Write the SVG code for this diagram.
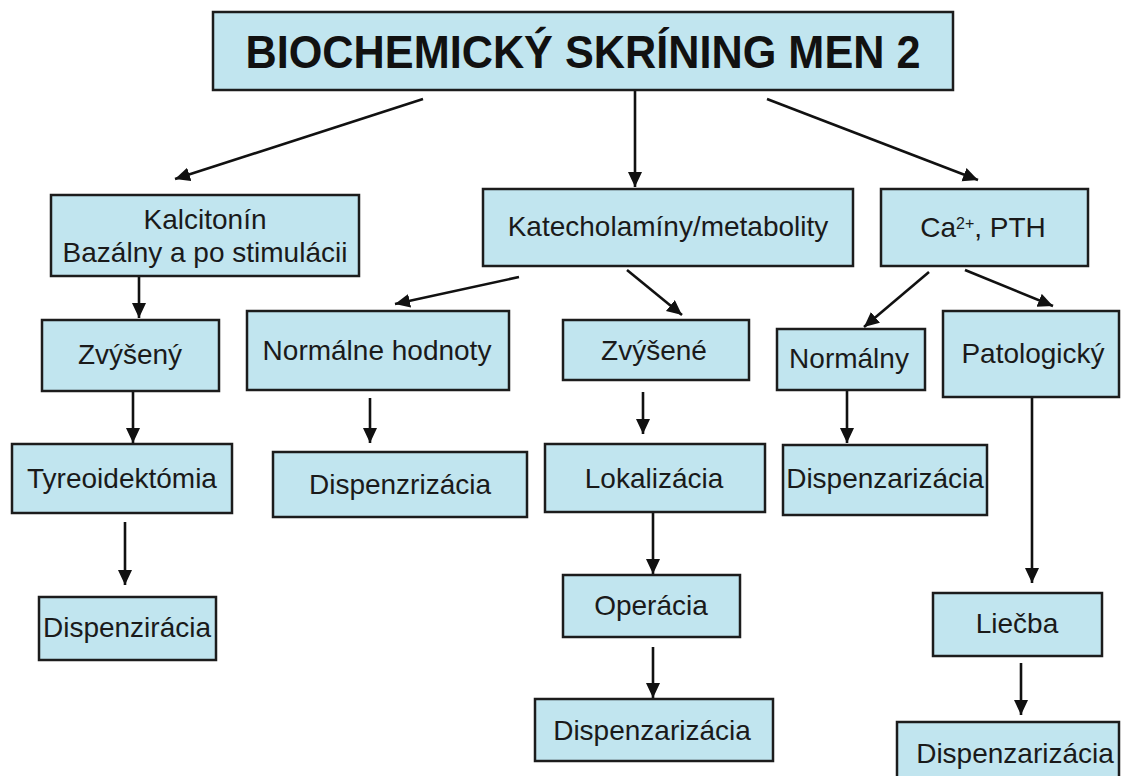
<svg xmlns="http://www.w3.org/2000/svg" width="1121" height="776" viewBox="0 0 1121 776">
<style>
.box{fill:#c1e5ef;stroke:#1c1c1c;stroke-width:2.5}
.t{font-family:"Liberation Sans",Arial,sans-serif;font-size:28px;fill:#1a1a1a;text-anchor:middle}
.title{font-family:"Liberation Sans",Arial,sans-serif;font-size:46px;font-weight:bold;fill:#111;text-anchor:middle}
.c{fill:none;stroke:#111;stroke-width:2.6;marker-end:url(#ah)}
</style>
<defs>
<marker id="ah" markerUnits="userSpaceOnUse" markerWidth="18" markerHeight="16" refX="15" refY="7" orient="auto">
<path d="M0,0 L15,7 L0,14 Z" fill="#111"/>
</marker>
</defs>
<rect width="1121" height="776" fill="#fff"/>
<g id="connectors">
<line class="c" x1="423" y1="99" x2="175" y2="179"/>
<line class="c" x1="635" y1="90" x2="635" y2="187"/>
<line class="c" x1="767" y1="99" x2="978" y2="180"/>
<line class="c" x1="139" y1="277" x2="139" y2="318"/>
<line class="c" x1="133" y1="392" x2="133" y2="443"/>
<line class="c" x1="125" y1="522" x2="125" y2="585"/>
<line class="c" x1="519" y1="277" x2="395" y2="304"/>
<line class="c" x1="627" y1="270" x2="682" y2="315"/>
<line class="c" x1="370" y1="398" x2="370" y2="443"/>
<line class="c" x1="643" y1="392" x2="643" y2="434"/>
<line class="c" x1="653" y1="513" x2="653" y2="574"/>
<line class="c" x1="653" y1="647" x2="653" y2="698"/>
<line class="c" x1="929" y1="272" x2="864" y2="327"/>
<line class="c" x1="965" y1="270" x2="1053" y2="306"/>
<line class="c" x1="847" y1="391" x2="847" y2="443"/>
<line class="c" x1="1032" y1="398" x2="1032" y2="583"/>
<line class="c" x1="1021" y1="663" x2="1021" y2="715"/>
</g>
<g id="n-title"><rect class="box" x="213" y="12" width="740" height="78"/><text class="title" x="583" y="68" textLength="675" lengthAdjust="spacingAndGlyphs">BIOCHEMICKÝ SKRÍNING MEN 2</text></g>
<g id="n-kalcitonin"><rect class="box" x="51" y="195" width="308" height="81"/><text class="t" x="205" y="229">Kalcitonín</text><text class="t" x="205" y="262">Bazálny a po stimulácii</text></g>
<g id="n-katechol"><rect class="box" x="483" y="189" width="370" height="77"/><text class="t" x="668" y="236">Katecholamíny/metabolity</text></g>
<g id="n-ca"><rect class="box" x="881" y="189" width="207" height="77"/><text class="t" x="983" y="237">Ca<tspan font-size="16" dy="-8">2+</tspan><tspan dy="8">, PTH</tspan></text></g>
<g id="n-zvyseny"><rect class="box" x="42" y="320" width="177" height="71"/><text class="t" x="130" y="364">Zvýšený</text></g>
<g id="n-normalne"><rect class="box" x="247" y="311" width="262" height="79"/><text class="t" x="377" y="360">Normálne hodnoty</text></g>
<g id="n-zvysene"><rect class="box" x="563" y="320" width="186" height="60"/><text class="t" x="654" y="360">Zvýšené</text></g>
<g id="n-normalny"><rect class="box" x="777" y="329" width="148" height="61"/><text class="t" x="849" y="368">Normálny</text></g>
<g id="n-patologicky"><rect class="box" x="943" y="311" width="176" height="86"/><text class="t" x="1033" y="363">Patologický</text></g>
<g id="n-tyreo"><rect class="box" x="12" y="444" width="220" height="69"/><text class="t" x="122" y="488">Tyreoidektómia</text></g>
<g id="n-dispenzrizacia"><rect class="box" x="273" y="452" width="254" height="65"/><text class="t" x="400" y="494">Dispenzrizácia</text></g>
<g id="n-lokalizacia"><rect class="box" x="545" y="444" width="220" height="68"/><text class="t" x="654" y="488">Lokalizácia</text></g>
<g id="n-dispenz-normalny"><rect class="box" x="783" y="445" width="204" height="70"/><text class="t" x="885" y="488">Dispenzarizácia</text></g>
<g id="n-dispenziracia"><rect class="box" x="39" y="597" width="177" height="63"/><text class="t" x="127" y="637">Dispenzirácia</text></g>
<g id="n-operacia"><rect class="box" x="563" y="575" width="177" height="62"/><text class="t" x="651" y="615">Operácia</text></g>
<g id="n-liecba"><rect class="box" x="933" y="593" width="169" height="63"/><text class="t" x="1017" y="633">Liečba</text></g>
<g id="n-dispenz-mid"><rect class="box" x="535" y="699" width="238" height="62"/><text class="t" x="652" y="740">Dispenzarizácia</text></g>
<g id="n-dispenz-right"><rect class="box" x="897" y="722" width="222" height="60"/><text class="t" x="1015" y="763">Dispenzarizácia</text></g>
</svg>
